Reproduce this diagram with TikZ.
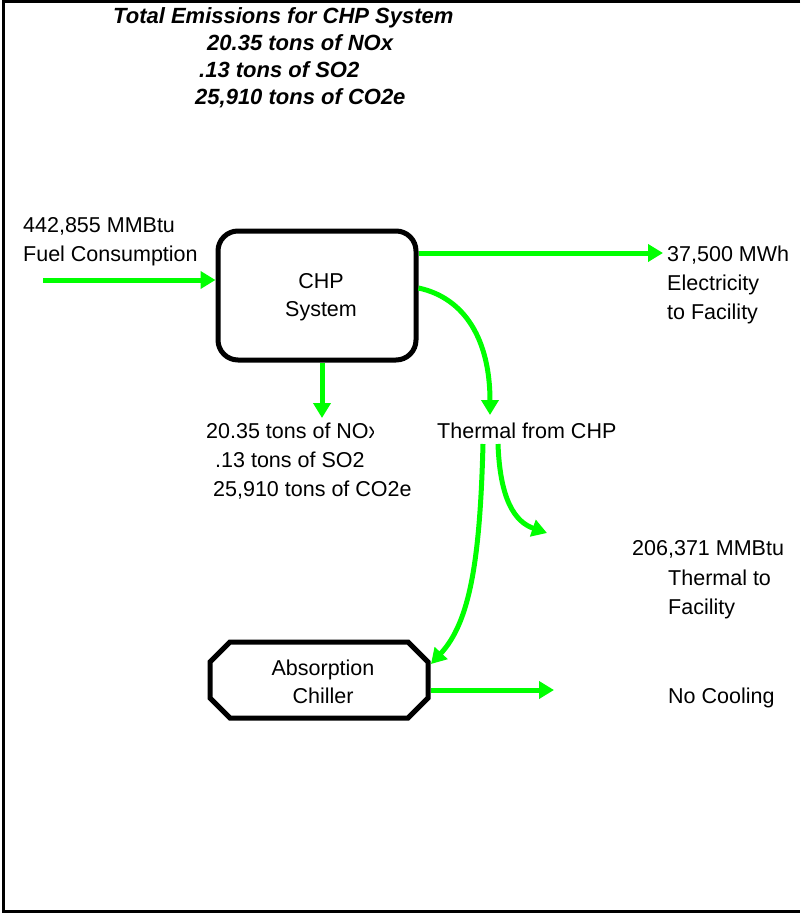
\documentclass[tikz,border=0pt]{standalone}
\usepackage{fontspec}
\setmainfont{Liberation Sans}
\usetikzlibrary{arrows.meta,positioning}
\definecolor{flowgreen}{RGB}{0,255,0}
\tikzset{
  flow/.style={draw=flowgreen, line width=5pt, -{Triangle[length=15pt,width=17pt]}},
  txt/.style={inner sep=0pt, anchor=base west, font=\fontsize{21.5}{29}\selectfont},
  ttl/.style={inner sep=0pt, anchor=base west, font=\fontsize{22}{27}\selectfont\bfseries\itshape},
  boxtxt/.style={inner sep=0pt, align=center, font=\fontsize{21.5}{28}\selectfont},
  chpbox/.style={draw, line width=5pt, rounded corners=20pt, minimum width=198pt,
    minimum height=129pt, inner sep=0pt},
  chillbox/.style={minimum width=218pt, minimum height=76pt, inner sep=0pt, outer sep=0pt},
  chamfer/.style={draw, line width=5pt, line join=miter},
}

\begin{document}
\begin{tikzpicture}[x=1pt,y=-1pt]
	\useasboundingbox (0,0) rectangle (800,915);
	\draw[line width=2.5pt] (800,1.5) -- (3.5,1.5) -- (3.5,911.5) -- (800,911.5);
	
	% totals
	\node[ttl] (ttl1) at (113,24) {Total Emissions for CHP System};
	\node[ttl] (ttl2) at (207,51) {20.35 tons of NOx};
	\node[ttl] (ttl3) at (199,78) {.13 tons of SO2};
	\node[ttl] (ttl4) at (195,105) {25,910 tons of CO2e};
	
	% boxes
	\node[chpbox] (chp) at (317,295.5) {};
	\node[boxtxt] (chptxt) at ([xshift=4pt,yshift=-2pt]chp.center) {CHP\\System};
	\node[chillbox] (chiller) at (319,680) {};
	\draw[chamfer] ([xshift=20pt]chiller.north west) -- ([xshift=-20pt]chiller.north east)
		-- ([yshift=-20pt]chiller.north east) -- ([yshift=20pt]chiller.south east)
		-- ([xshift=-20pt]chiller.south east) -- ([xshift=20pt]chiller.south west)
		-- ([yshift=20pt]chiller.south west) -- ([yshift=-20pt]chiller.north west) -- cycle;
	\node[boxtxt] (chilltxt) at ([xshift=4pt,yshift=-2pt]chiller.center) {Absorption\\Chiller};
	
	% labels
	\node[txt] (fuel1) at (23,232) {442,855 MMBtu};
	\node[txt] (fuel2) at (23,261) {Fuel Consumption};
	\node[txt] (elec1) at (667,261) {37,500 MWh};
	\node[txt] (elec2) at (667,290) {Electricity};
	\node[txt] (elec3) at (667,319) {to Facility};
	\node[txt] (thermal) at (437,438) {Thermal from CHP};
	\begin{scope}
		\clip (200,410) rectangle (373,450);
		\node[txt] (emis1) at (206,438) {20.35 tons of NOx};
	\end{scope}
	\node[txt] (emis2) at (215,467) {.13 tons of SO2};
	\node[txt] (emis3) at (213,496) {25,910 tons of CO2e};
	\node[txt] (heat1) at (632,555) {206,371 MMBtu};
	\node[txt] (heat2) at (668,585) {Thermal to};
	\node[txt] (heat3) at (668,614) {Facility};
	\node[txt] (nocool) at (668,703) {No Cooling};
	
	% flows
	\coordinate (fuelin) at (43,280);
	\coordinate (elecin) at (663,253);
	\coordinate (emisout) at (322,418);
	\coordinate (thtip) at (490,415);
	\coordinate (thleft) at (483,444);
	\coordinate (thright) at (498,444);
	\coordinate (heattip) at (547,533);
	\coordinate (coolout) at (554,690);
	
	\draw[flow] (fuelin) -- (fuelin -| chp.west);
	\draw[flow] (chp.east |- elecin) -- (elecin);
	\draw[flow] ([yshift=7.5pt]chp.east) .. controls (465,298) and (490,340) .. (thtip);
	\draw[flow] (emisout |- chp.south) -- (emisout);
	\draw[flow] (thleft) .. controls (480,560) and (470,622) .. ([xshift=3pt,yshift=16pt]chiller.east);
	\draw[flow] (thright) .. controls (500,500) and (515,522) .. (heattip);
	\draw[flow] ([xshift=2.5pt]chiller.east |- coolout) -- (coolout);
\end{tikzpicture}
\end{document}
